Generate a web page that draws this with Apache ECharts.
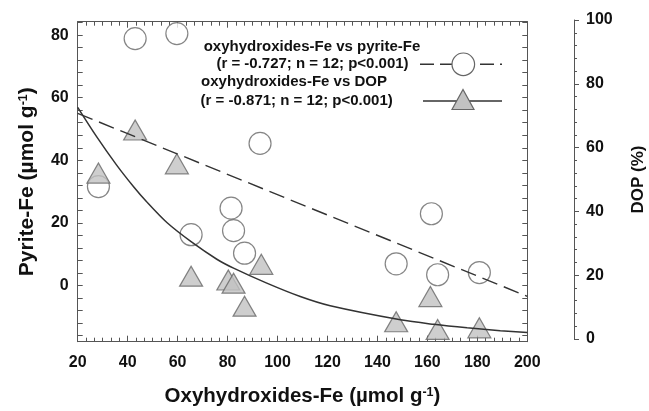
<!DOCTYPE html>
<html><head><meta charset="utf-8">
<script src="https://cdn.jsdelivr.net/npm/echarts@6/dist/echarts.min.js"></script>
<style>html,body{margin:0;padding:0;background:#fff}#c{width:649px;height:411px}</style>
</head><body><div id="c"></div>
<script>
// Circles: oxyhydroxides-Fe vs pyrite-Fe (left axis)
const oxyPyrite = [43.0, 59.7, 93.0, 28.3, 65.4, 81.4, 82.4, 86.8, 161.6, 147.5, 164.1, 180.8];
const pyriteFe  = [78.9, 80.5, 45.4, 31.6, 16.2, 24.7, 17.5, 10.3, 22.9, 6.9, 3.4, 4.1];
// Triangles: oxyhydroxides-Fe vs DOP (right axis)
const oxyDop = [43.0, 59.7, 28.3, 65.4, 80.3, 82.4, 86.8, 93.5, 161.2, 147.5, 164.1, 180.8];
const dopPct = [65.5, 54.9, 52.0, 19.7, 18.5, 17.5, 10.3, 23.4, 13.3, 5.4, 3.0, 3.5];
// Regression lines
const pyriteFitX = [20, 200];
const pyriteFitY = [55.0, -3.5];
const dopFitX = [20, 27.5, 35.6, 42.3, 47.6, 55.7, 65.4, 75.7, 82.4, 95.7, 109.1, 121.1, 149.2, 162.5, 175.9, 189.2, 200];
const dopFitY = [72.6, 63.5, 54.5, 47.8, 43.0, 36.5, 30.5, 25.0, 22.2, 17.5, 13.3, 10.4, 6.0, 4.6, 3.5, 2.6, 2.0];
// Tick labels
const xTickLabels = [20, 40, 60, 80, 100, 120, 140, 160, 180, 200];
const pyriteTickLabels = [0, 20, 40, 60, 80];
const pyriteTicks = [-16, -12, -8, -4, 0, 4, 8, 12, 16, 20, 24, 28, 32, 36, 40, 44, 48, 52, 56, 60, 64, 68, 72, 76, 80, 84];
const dopTickLabels = [0, 20, 40, 60, 80, 100];
// Legend texts
const legendLines = [
  ['oxyhydroxides-Fe vs pyrite-Fe', '(r = -0.727; n = 12; p<0.001)'],
  ['oxyhydroxides-Fe vs DOP', '(r = -0.871; n = 12; p<0.001)']
];

const FONT = '"Liberation Sans", Arial, Helvetica, sans-serif';
const AX = '#555';
const TXT = '#111';
const zip = (a, b) => a.map((v, i) => [v, b[i]]);

const chart = echarts.init(document.getElementById('c'), null, {renderer: 'canvas'});
const lab = {fontFamily: FONT, fontWeight: 'bold', fontSize: 16, color: TXT};
const axLine = {show: true, onZero: false, lineStyle: {color: AX, width: 1}};
const supRich = {sup: {fontFamily: FONT, fontWeight: 'bold', fontSize: 12.5, color: TXT, verticalAlign: 'top', padding: [0, 0, 8, 0]}};

chart.setOption({
  animation: false,
  backgroundColor: '#fff',
  grid: [
    {left: 77.7, right: 121.7, top: 21.7, bottom: 69.3, containLabel: false, outerBoundsMode: 'none'},
    {left: 77.7, right: 121.7, top: 20, bottom: 72, containLabel: false, outerBoundsMode: 'none'}
  ],
  xAxis: [
    {gridIndex: 0, type: 'value', min: 20, max: 200, interval: 20, position: 'bottom',
     name: 'Oxyhydroxides-Fe (µmol g{sup|-1})', nameLocation: 'middle', nameGap: 44,
     nameTextStyle: {fontFamily: FONT, fontWeight: 'bold', fontSize: 20.5, color: TXT, rich: supRich},
     axisLine: axLine,
     axisTick: {show: true, inside: true, length: 6, lineStyle: {color: AX}},
     minorTick: {show: true, splitNumber: 6, length: 4, lineStyle: {color: AX}},
     axisLabel: Object.assign({margin: 13, customValues: xTickLabels}, lab),
     splitLine: {show: false}},
    {gridIndex: 0, type: 'value', min: 20, max: 200, interval: 20, position: 'top',
     axisLine: axLine,
     axisTick: {show: true, inside: true, length: 6, lineStyle: {color: AX}},
     minorTick: {show: true, splitNumber: 6, length: 4, lineStyle: {color: AX}},
     axisLabel: {show: false}, splitLine: {show: false}},
    {gridIndex: 1, type: 'value', min: 20, max: 200, interval: 20, position: 'bottom',
     axisLine: {show: false}, axisTick: {show: false}, axisLabel: {show: false}, splitLine: {show: false}}
  ],
  yAxis: [
    {gridIndex: 0, type: 'value', min: -18, max: 84.3, position: 'left',
     name: 'Pyrite-Fe (µmol g{sup|-1})', nameLocation: 'middle', nameGap: 40, nameRotate: 90,
     nameTextStyle: {fontFamily: FONT, fontWeight: 'bold', fontSize: 21, color: TXT, rich: supRich},
     axisLine: axLine,
     axisTick: {show: true, inside: true, length: 5, customValues: pyriteTicks, lineStyle: {color: AX}},
     axisLabel: Object.assign({margin: 9, customValues: pyriteTickLabels}, lab),
     splitLine: {show: false}},
    {gridIndex: 0, type: 'value', min: -18, max: 84.3, position: 'right',
     axisLine: axLine,
     axisTick: {show: true, inside: true, length: 5, customValues: pyriteTicks, lineStyle: {color: AX}},
     axisLabel: {show: false}, splitLine: {show: false}},
    {gridIndex: 1, type: 'value', min: 0, max: 100, interval: 20, position: 'right', offset: 46.7,
     name: 'DOP (%)', nameLocation: 'middle', nameGap: 56, nameRotate: 90,
     nameTextStyle: {fontFamily: FONT, fontWeight: 'bold', fontSize: 17, color: TXT},
     axisLine: axLine,
     axisTick: {show: true, inside: false, length: 5, lineStyle: {color: AX}},
     minorTick: {show: true, splitNumber: 5, length: 3, lineStyle: {color: AX}},
     axisLabel: Object.assign({margin: 12, customValues: dopTickLabels}, lab),
     splitLine: {show: false}}
  ],
  series: [
    {name: 'pyrite', type: 'scatter', xAxisIndex: 0, yAxisIndex: 0, data: zip(oxyPyrite, pyriteFe),
     symbol: 'circle', symbolSize: 22, z: 2,
     itemStyle: {color: '#fff', borderColor: '#666', borderWidth: 1.2}},
    {name: 'dop', type: 'scatter', xAxisIndex: 2, yAxisIndex: 2, data: zip(oxyDop, dopPct),
     symbol: 'triangle', symbolSize: [23, 20], z: 3,
     itemStyle: {color: '#c2c2c2', borderColor: '#666', borderWidth: 1.2}},
    {name: 'pyriteFit', type: 'line', xAxisIndex: 0, yAxisIndex: 0, data: zip(pyriteFitX, pyriteFitY),
     showSymbol: false, symbol: 'none', z: 4,
     lineStyle: {color: '#333', width: 1.4, type: [16, 7]}},
    {name: 'dopFit', type: 'line', xAxisIndex: 2, yAxisIndex: 2, data: zip(dopFitX, dopFitY),
     showSymbol: false, symbol: 'none', smooth: 0.3, z: 4,
     lineStyle: {color: '#333', width: 1.5}}
  ],
  graphic: [
    {type: 'text', x: 312, y: 46.7, style: {text: legendLines[0][0], align: 'center', verticalAlign: 'middle', font: 'bold 15px ' + FONT, fill: TXT}},
    {type: 'text', x: 312.5, y: 64.3, style: {text: legendLines[0][1], align: 'center', verticalAlign: 'middle', font: 'bold 15px ' + FONT, fill: TXT}},
    {type: 'text', x: 294, y: 82.3, style: {text: legendLines[1][0], align: 'center', verticalAlign: 'middle', font: 'bold 15px ' + FONT, fill: TXT}},
    {type: 'text', x: 296.7, y: 101, style: {text: legendLines[1][1], align: 'center', verticalAlign: 'middle', font: 'bold 15px ' + FONT, fill: TXT}},
    {type: 'line', shape: {x1: 420, y1: 64.3, x2: 502, y2: 64.3}, style: {stroke: '#333', lineWidth: 1.4, lineDash: [14, 6]}},
    {type: 'circle', shape: {cx: 463.3, cy: 64.3, r: 11.3}, style: {fill: '#fff', stroke: '#666', lineWidth: 1.2}},
    {type: 'line', shape: {x1: 423, y1: 101, x2: 502, y2: 101}, style: {stroke: '#333', lineWidth: 1.5}},
    {type: 'polygon', shape: {points: [[452, 109.5], [474, 109.5], [463, 89.5]]}, style: {fill: '#c2c2c2', stroke: '#666', lineWidth: 1.2}}
  ]
});
</script>
</body></html>
